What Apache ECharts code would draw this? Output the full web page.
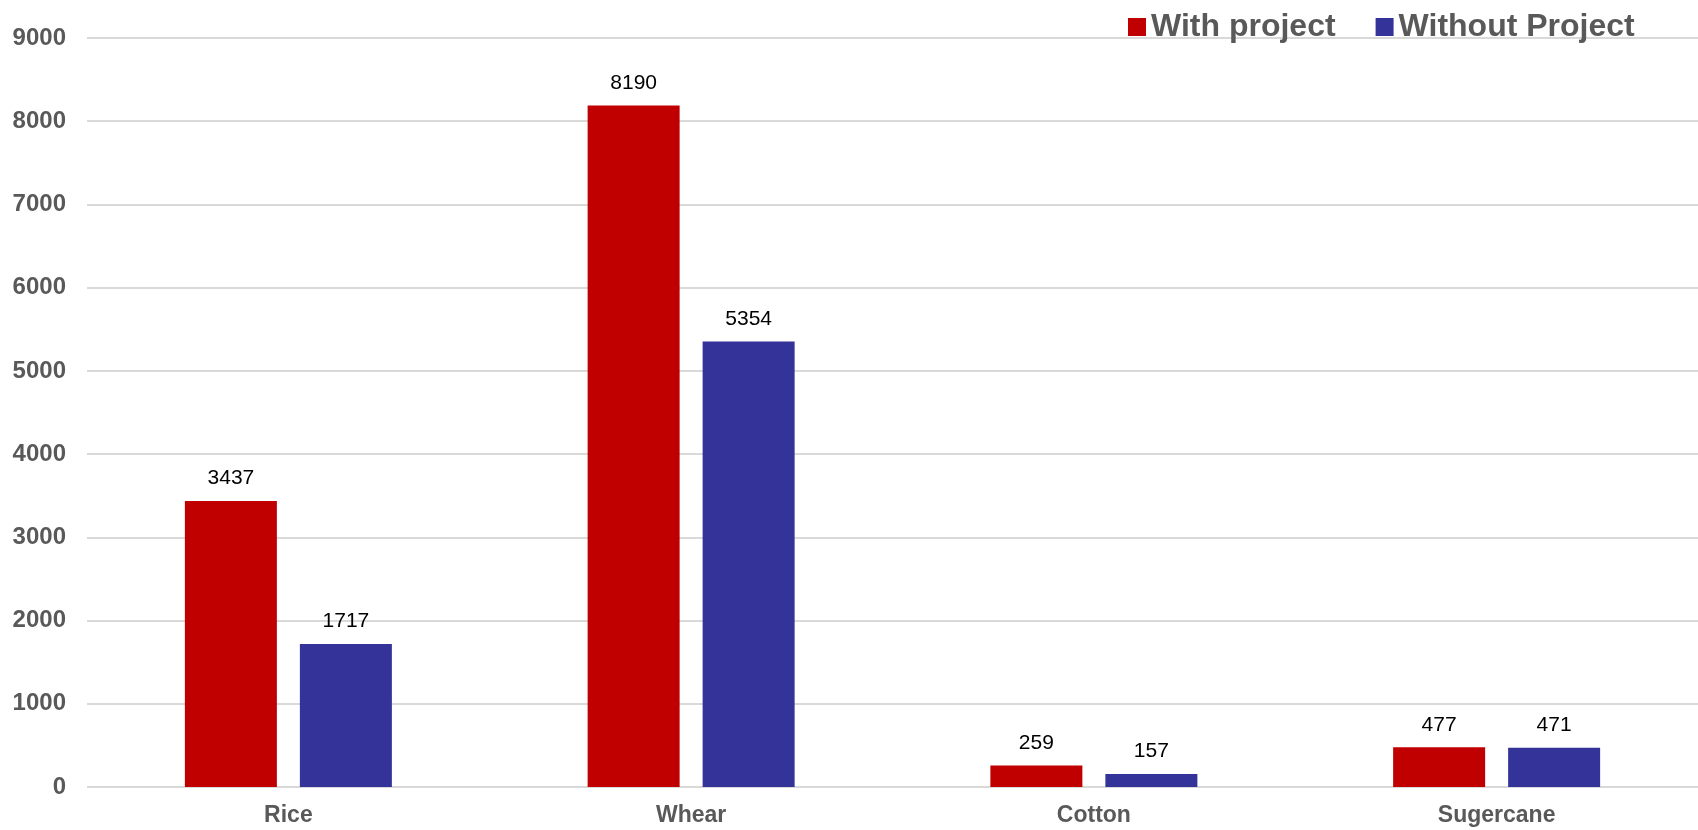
<!DOCTYPE html>
<html>
<head>
<meta charset="utf-8">
<script src="https://cdn.jsdelivr.net/npm/echarts@6/dist/echarts.min.js"></script>
<style>
html,body{margin:0;padding:0;background:#fff;}
#chart{width:1698px;height:830px;}
</style>
</head>
<body>
<div id="chart"></div>
<script>
const categories = ['Rice', 'Whear', 'Cotton', 'Sugercane'];
const withProject = [3437, 8190, 259, 477];
const withoutProject = [1717, 5354, 157, 471];
const seriesNames = ['With project', 'Without Project'];

const chart = echarts.init(document.getElementById('chart'));
const FONT = '"Liberation Sans", Arial, sans-serif';
chart.setOption({
  animation: false,
  backgroundColor: '#ffffff',
  textStyle: { fontFamily: FONT },
  legend: {
    data: seriesNames,
    left: 1123,
    top: 6,
    itemWidth: 18,
    itemHeight: 18,
    itemGap: 40,
    icon: 'rect',
    textStyle: { fontSize: 32, fontWeight: 'bold', color: '#595959', fontFamily: FONT }
  },
  grid: { left: 87, right: -4, top: 38, bottom: 43, containLabel: false },
  xAxis: {
    type: 'category',
    data: categories,
    axisLine: { show: false },
    axisTick: { show: false },
    axisLabel: { fontSize: 23, fontWeight: 'bold', color: '#595959', margin: 17, fontFamily: FONT }
  },
  yAxis: {
    type: 'value',
    min: 0,
    max: 9000,
    interval: 1000,
    axisLine: { show: false },
    axisTick: { show: false },
    axisLabel: { fontSize: 24, fontWeight: 'bold', color: '#595959', margin: 21, fontFamily: FONT,
      formatter: function (v) { return String(v); } },
    splitLine: { lineStyle: { color: '#d9d9d9', width: 2 } }
  },
  series: [
    {
      name: seriesNames[0],
      type: 'bar',
      data: withProject,
      barWidth: 92,
      barGap: '25%',
      itemStyle: { color: '#C00000' },
      label: { show: true, position: 'top', distance: 12, fontSize: 21, color: '#000', fontFamily: FONT }
    },
    {
      name: seriesNames[1],
      type: 'bar',
      data: withoutProject,
      barWidth: 92,
      barGap: '25%',
      itemStyle: { color: '#333399' },
      label: { show: true, position: 'top', distance: 12, fontSize: 21, color: '#000', fontFamily: FONT }
    }
  ]
});
</script>
</body>
</html>
